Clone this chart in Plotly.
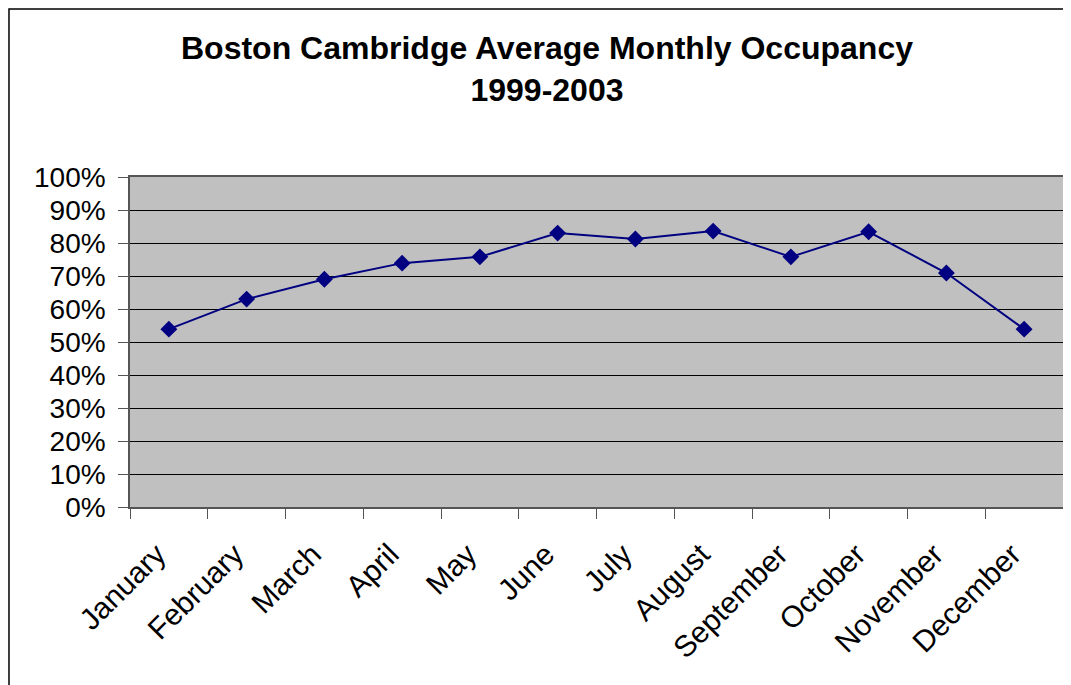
import plotly.graph_objects as go

months = ["January", "February", "March", "April", "May", "June", "July",
          "August", "September", "October", "November", "December"]
occupancy = [0.539, 0.630, 0.690, 0.739, 0.758, 0.830, 0.812,
             0.836, 0.758, 0.834, 0.709, 0.539]
y_ticks = [i / 10 for i in range(11)]

title_text = "<b>Boston Cambridge Average Monthly Occupancy<br>1999-2003</b>"

fig = go.Figure()
fig.add_trace(go.Scatter(
    x=months, y=occupancy, mode="lines+markers",
    line=dict(color="#000080", width=2),
    marker=dict(symbol="diamond", size=13, color="#000080"),
    showlegend=False,
))

font_family = "Liberation Sans, Arial, sans-serif"

# page body has an 8px default margin; margins compensate for it
fig.update_layout(
    width=1071, height=685,
    margin=dict(l=122, r=16, t=169, b=186),
    paper_bgcolor="white",
    plot_bgcolor="#C0C0C0",
    font=dict(family=font_family, size=28, color="black"),
    annotations=[dict(text=title_text, xref="paper", yref="paper",
                      x=0.447, y=1.327, xanchor="center", yanchor="middle",
                      showarrow=False, align="center",
                      font=dict(family=font_family, size=32, color="black"))],
    shapes=[dict(type="rect", xref="paper", yref="paper",
                 x0=-0.1297, x1=1.2, y0=-1.0, y1=1.509,
                 line=dict(color="black", width=1.5), fillcolor="rgba(0,0,0,0)",
                 layer="below")],
)
fig.update_xaxes(
    type="category", range=[-0.5, len(months) - 0.5],
    tickangle=-45, tickson="boundaries",
    ticks="outside", ticklen=10, tickcolor="#555555",
    showline=True, linecolor="#555555", linewidth=1.5, mirror=True,
    showgrid=False, automargin=False,
    ticklabelstandoff=16, ticklabelshift=-12,
    tickfont=dict(family=font_family, size=30, color="black"),
)
fig.update_yaxes(
    range=[0, 1], tickvals=y_ticks, tickformat=".0%",
    ticks="outside", ticklen=10, tickcolor="#555555",
    showline=True, linecolor="#555555", linewidth=1.5, mirror=True,
    showgrid=True, gridcolor="black", gridwidth=1,
    zeroline=False, automargin=False, ticklabelstandoff=7,
    tickfont=dict(family=font_family, size=28, color="black"),
)

fig.write_html("out.html")
